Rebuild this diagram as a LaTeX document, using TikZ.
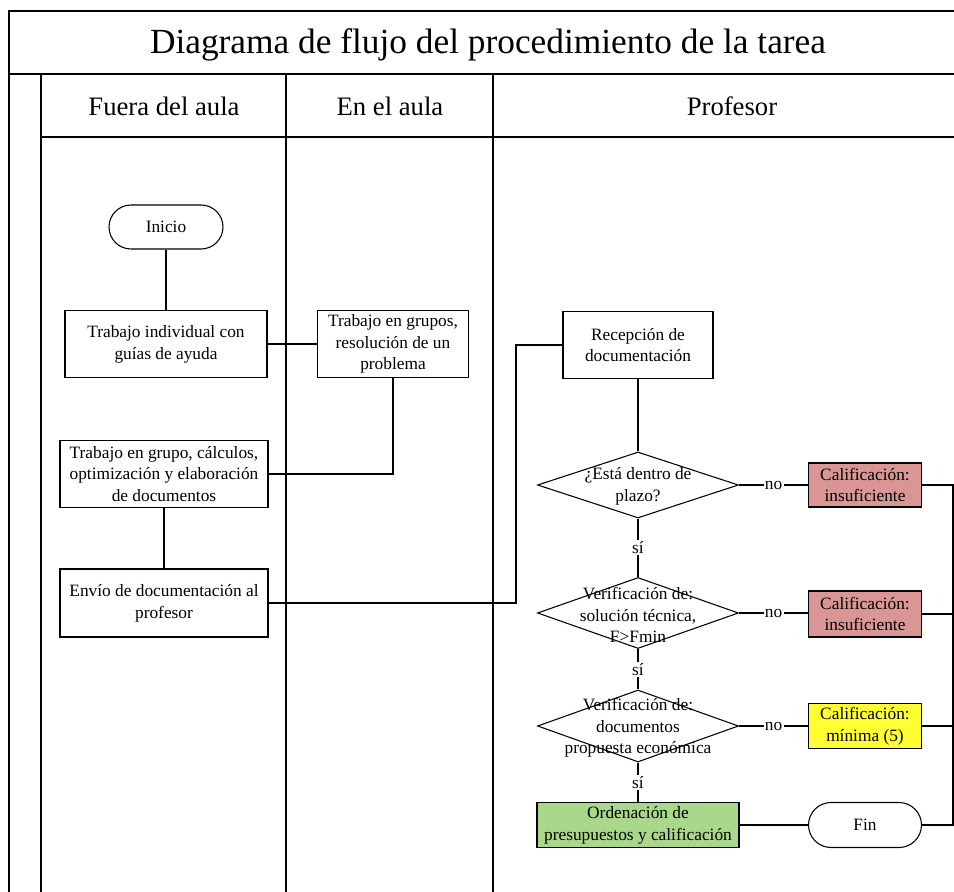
\documentclass[tikz,border=0pt]{standalone}
\usepackage{fontspec}
\setmainfont{Liberation Serif}
\usetikzlibrary{shapes.geometric,positioning,calc}
\definecolor{rojo}{HTML}{D99694}
\definecolor{amar}{HTML}{FFFF33}
\definecolor{verde}{HTML}{A9D88A}

\begin{document}
\begin{tikzpicture}[x=0.75pt,y=-0.75pt,
	marco/.style={line width=1.5pt},
	caja/.style={draw,rectangle,line width=0.8pt,align=center,inner sep=1pt,font=\fontsize{13}{16.3}\selectfont},
	term/.style={caja,rounded corners=16.5pt},
	decis/.style={draw,diamond,line width=0.8pt,inner sep=0pt},
	txt/.style={align=center,inner sep=0pt,font=\fontsize{13}{16.3}\selectfont},
	etiq/.style={fill=white,inner sep=1pt,font=\fontsize{13}{15}\selectfont},
	linea/.style={line width=1.1pt}]
\useasboundingbox (0,0) rectangle (954,892);
% marco y carriles
\draw [marco] (960,11) -- (9,11) -- (9,900);
\draw [marco] (9,74) -- (960,74);
\draw [marco] (41,74) -- (41,900);
\draw [marco] (41,137) -- (960,137);
\draw [marco] (286,74) -- (286,900);
\draw [marco] (493,74) -- (493,900);
\node (tit) at (488,45) {\fontsize{26.5}{30}\selectfont Diagrama de flujo del procedimiento de la tarea};
\node (h1) at (164,106) {\fontsize{20}{24}\selectfont Fuera del aula};
\node (h2) at (390,106) {\fontsize{20}{24}\selectfont En el aula};
\node (h3) at (732,106) {\fontsize{20}{24}\selectfont Profesor};
% alumnos
\node [term,minimum width=85.5pt,minimum height=33pt] (ini) at (166,227) {Inicio};
\node [caja,minimum width=151.5pt,minimum height=50.25pt] (t1) at (166,344) {Trabajo individual con\\guías de ayuda};
\node [caja,minimum width=113.25pt,minimum height=50.25pt] (t2) at (393,344) {Trabajo en grupos,\\resolución de un\\problema};
\node [caja,minimum width=156pt,minimum height=50.25pt] (t3) at (164,474) {Trabajo en grupo, cálculos,\\optimización y elaboración\\de documentos};
\node [caja,minimum width=156pt,minimum height=51pt] (t4) at (164,603) {Envío de documentación al\\profesor};
% profesor
\node [caja,minimum width=112.5pt,minimum height=50.25pt] (rec) at (638,345) {Recepción de\\documentación};
\node [decis,minimum width=150.75pt,minimum height=49.5pt] (K1) at (638,485) {};
\node [decis,minimum width=150.75pt,minimum height=53.25pt] (K2) at (638,613) {};
\node [decis,minimum width=150.75pt,minimum height=54pt] (K3) at (638,726) {};
\node [txt] (K1t) at (638,486) {¿Está dentro de\\plazo?};
\node [txt] (K2t) at (638,615) {Verificación de:\\solución técnica,\\F>Fmin};
\node [txt] (K3t) at (638,728) {Verificación de:\\documentos\\propuesta económica};
\node [caja,fill=rojo,minimum width=84.75pt,minimum height=33pt] (C1) at (865,485) {Calificación:\\insuficiente};
\node [caja,fill=rojo,minimum width=84.75pt,minimum height=34.5pt] (C2) at (865,614) {Calificación:\\insuficiente};
\node [caja,fill=amar,minimum width=84.75pt,minimum height=33.75pt] (C3) at (865,726) {Calificación:\\mínima (5)};
\node [caja,fill=verde,minimum width=151.5pt,minimum height=33.75pt] (ord) at (638,825) {Ordenación de\\presupuestos y calificación};
\node [term,rounded corners=16.9pt,minimum width=84.75pt,minimum height=33.75pt] (fin) at (865,825) {Fin};
\coordinate (b1) at (516,603);
\coordinate (b2) at (953,825);
% conexiones
\draw [linea] (ini) -- (t1);
\draw [linea] (t1) -- (t2);
\draw [linea] (t2) |- (t3);
\draw [linea] (t3) -- (t4);
\draw [linea] (t4) -- (b1) |- (rec);
\draw [linea] (rec) -- (K1);
\draw [linea] (K1) -- node [etiq] (s1) {sí} (K2);
\draw [linea] (K2) -- node [etiq] (s2) {sí} (K3);
\draw [linea] (K3) -- node [etiq] (s3) {sí} (ord);
\draw [linea] (K1) -- node [etiq] (n1) {no} (C1);
\draw [linea] (K2.east) -- node [etiq] (n2) {no} (K2.east -| C2.west);
\draw [linea] (K3) -- node [etiq] (n3) {no} (C3);
\draw [linea] (ord) -- (fin);
\draw [linea] (C1) -| (b2) -- (fin);
\draw [linea] (C2.east) -- (C2.east -| b2);
\draw [linea] (C3) -- (C3 -| b2);
\end{tikzpicture}
\end{document}
